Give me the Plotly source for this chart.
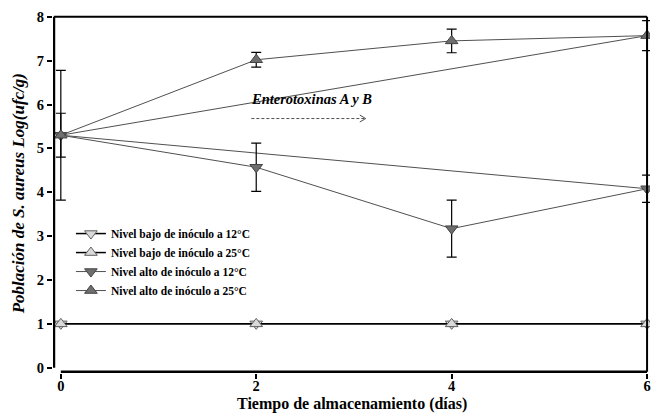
import plotly.graph_objects as go

# ---- data ----
dias = [0, 2, 4, 6]
bajo_12 = [1.0, 1.0, 1.0, 1.0]
bajo_25 = [1.0, 1.0, 1.0, 1.0]
alto_12 = [5.3, 4.57, 3.17, 4.08]
alto_12_err = [1.48, 0.55, 0.65, 0.31]
alto_25 = [5.3, 7.02, 7.45, 7.57]
alto_25_err = [0.5, 0.17, 0.27, 0.34]
tend_x = [0, 6]
tend_sup = [5.3, 7.57]
tend_inf = [5.3, 4.08]

nombres = [
    "Nivel bajo de inóculo a 12°C",
    "Nivel bajo de inóculo a 25°C",
    "Nivel alto de inóculo a 12°C",
    "Nivel alto de inóculo a 25°C",
]
x_ticks = [0, 2, 4, 6]
y_ticks = [0, 1, 2, 3, 4, 5, 6, 7, 8]

FONT = "Liberation Serif, Times New Roman, serif"
LIGHT = "#d9d9d9"
DARK = "#6e6e6e"
LINE = "#505050"

fig = go.Figure()

for ty in (tend_sup, tend_inf):
    fig.add_trace(go.Scatter(x=tend_x, y=ty, mode="lines",
                             line=dict(color=LINE, width=1), showlegend=False,
                             hoverinfo="skip"))

fig.add_trace(go.Scatter(
    x=dias, y=bajo_12, name=nombres[0], mode="lines+markers",
    line=dict(color="black", width=1.5),
    marker=dict(symbol="triangle-down", size=11, color=LIGHT,
                line=dict(color="#606060", width=1))))
fig.add_trace(go.Scatter(
    x=dias, y=bajo_25, name=nombres[1], mode="lines+markers",
    line=dict(color="black", width=1.5),
    marker=dict(symbol="triangle-up", size=11, color=LIGHT,
                line=dict(color="#606060", width=1))))
fig.add_trace(go.Scatter(
    x=dias, y=alto_12, name=nombres[2], mode="lines+markers",
    line=dict(color=LINE, width=1),
    error_y=dict(type="data", array=alto_12_err, color="black", thickness=1.2, width=5),
    marker=dict(symbol="triangle-down", size=11, color=DARK,
                line=dict(color="#444", width=1))))
fig.add_trace(go.Scatter(
    x=dias, y=alto_25, name=nombres[3], mode="lines+markers",
    line=dict(color=LINE, width=1),
    error_y=dict(type="data", array=alto_25_err, color="black", thickness=1.2, width=5),
    marker=dict(symbol="triangle-up", size=11, color=DARK,
                line=dict(color="#444", width=1))))

XMIN, XMAX = -0.08, 6.03
YMIN, YMAX = -0.12, 8.04
XLINE_Y = -0.09

shapes = [
    dict(type="line", xref="x", yref="y", x0=XMIN + 0.01, x1=XMIN + 0.01, y0=0, y1=8,
         line=dict(color="black", width=2.5)),
    dict(type="line", xref="x", yref="y", x0=0, x1=6, y0=XLINE_Y, y1=XLINE_Y,
         line=dict(color="black", width=2.5)),
    dict(type="line", xref="x", yref="y", x0=XMIN + 0.01, x1=6, y0=8, y1=8,
         line=dict(color="black", width=2)),
    dict(type="line", xref="x", yref="y", x0=6, x1=6, y0=XLINE_Y, y1=8,
         line=dict(color="black", width=2)),
]

# dashed arrow for the enterotoxin annotation
AX0, AX1, AYV = 1.95, 3.12, 5.68
shapes.append(dict(type="line", xref="x", yref="y", x0=AX0, x1=AX1, y0=AYV, y1=AYV,
                   line=dict(color=LINE, width=1, dash="3px,2px")))
shapes.append(dict(type="path", xref="x", yref="y",
                   path=f"M {AX1-0.06},{AYV+0.08} L {AX1},{AYV} L {AX1-0.06},{AYV-0.08}",
                   line=dict(color=LINE, width=1)))

annotations = [
    dict(x=2.57, y=6.13, xref="x", yref="y", text="<b><i>Enterotoxinas A y B</i></b>",
         showarrow=False, font=dict(family=FONT, size=14.5, color="black")),
    dict(x=-0.058, y=0.50, xref="paper", yref="paper", textangle=-90,
         xanchor="center", yanchor="middle",
         text="<b><i>Población de S. aureus Log(ufc/g)</i></b>", showarrow=False,
         font=dict(family=FONT, size=17, color="black")),
    dict(x=0.5, y=-0.086, xref="paper", yref="paper", xanchor="center", yanchor="middle",
         text="<b>Tiempo de almacenamiento (días)</b>", showarrow=False,
         font=dict(family=FONT, size=16, color="black")),
]

fig.update_layout(
    width=651, height=413,
    margin=dict(l=53, r=1, t=15, b=40),
    paper_bgcolor="white", plot_bgcolor="white",
    font=dict(family=FONT, color="black"),
    xaxis=dict(range=[XMIN, XMAX], tickvals=x_ticks, ticktext=[f"<b>{v}</b>" for v in x_ticks],
               showgrid=False, zeroline=False, showline=False,
               ticks="outside", ticklen=5, tickwidth=2, tickcolor="black",
               ticklabelstandoff=-5, ticklabeloverflow="allow",
               tickfont=dict(family=FONT, size=14.5, color="black")),
    yaxis=dict(range=[YMIN, YMAX], tickvals=y_ticks, ticktext=[f"<b>{v}</b>" for v in y_ticks],
               showgrid=False, zeroline=False, showline=False,
               ticks="outside", ticklen=5, tickwidth=2, tickcolor="black",
               tickfont=dict(family=FONT, size=14.5, color="black")),
    legend=dict(x=0.03, y=0.43, xanchor="left", yanchor="top",
                bgcolor="rgba(0,0,0,0)", borderwidth=0, tracegroupgap=0,
                font=dict(family=FONT, size=11.5, color="black", weight="bold")),
    shapes=shapes, annotations=annotations,
)

fig.write_html("out.html",
               config={"displayModeBar": False},
               post_script="document.body.style.margin='0';document.body.style.overflow='hidden';")
